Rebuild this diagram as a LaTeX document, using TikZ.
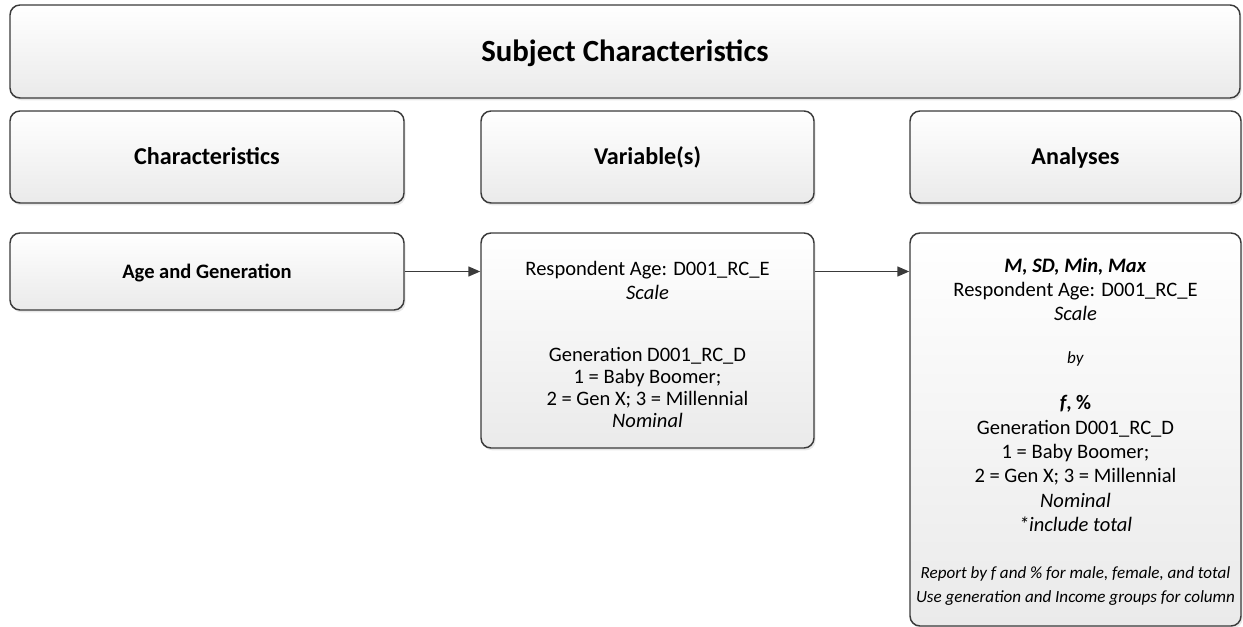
\documentclass[tikz,border=0pt]{standalone}
\usepackage{fontspec}
\setmainfont{Carlito}
\usetikzlibrary{arrows.meta,shadows}
\definecolor{boxline}{HTML}{3A3A3A}
\definecolor{boxfill}{HTML}{EAEAEA}

\begin{document}
\begin{tikzpicture}[x=0.75pt,y=-0.75pt,
    box/.style={draw=boxline, line width=1.1pt, rounded corners=7.5pt,
        top color=white, bottom color=boxfill, align=center, inner sep=0pt,
        drop shadow={shadow xshift=1.2pt, shadow yshift=-1.8pt, opacity=0.18}},
    head/.style={box, font=\fontsize{18.1}{21}\selectfont\bfseries,
        text height=15pt, text depth=4pt},
    body/.style={box, font=\fontsize{15.4}{16.5}\selectfont},
    link/.style={draw=boxline, line width=1.1pt, -{Triangle[length=9pt,width=7.5pt]}}]
    \useasboundingbox (0,0) rectangle (1243,627);

    \node[box, minimum width=922.5pt, minimum height=69.75pt, text height=18pt, text depth=3.2pt,
        font=\fontsize{23.1}{27}\selectfont\bfseries] (title) at (625,51.5) {Subject Characteristics};

    % column heads
    \node[head, minimum width=295.5pt, minimum height=69pt] (char) at (207,157) {Characteristics};
    \node[head, minimum width=249.75pt, minimum height=69pt] (var) at (647.5,157) {Variable(s)};
    \node[head, minimum width=248.25pt, minimum height=69pt] (ana) at (1075.5,157) {Analyses};

    \node[body, minimum width=295.5pt, minimum height=57.75pt, text height=12pt, text depth=2pt] (age) at (207,271.5) {\bfseries Age and Generation};
    \node[body, minimum width=249.75pt, minimum height=161.25pt] (vars) at (647.5,340.5) {%
        \rule{0pt}{17pt}Respondent Age: D001\_RC\_E\\[1.5pt]
        \textit{Scale}\\[30pt]
        Generation D001\_RC\_D\\
        1 = Baby Boomer;\\
        2 = Gen X; 3 = Millennial\\
        \textit{Nominal}};
    \node[body, minimum width=248.25pt, minimum height=294.75pt,
        font=\fontsize{15.4}{18.2}\selectfont] (anas) at (1075.5,429.5) {%
        \rule{0pt}{14pt}\textbf{\textit{M, SD, Min, Max}}\\
        Respondent Age: D001\_RC\_E\\
        \textit{Scale}\\[13.5pt]
        {\fontsize{12.8}{18}\selectfont\textit{by}}\\[17pt]
        \textbf{\textit{f}, \%}\\
        Generation D001\_RC\_D\\
        1 = Baby Boomer;\\
        2 = Gen X; 3 = Millennial\\
        \textit{Nominal}\\
        \textit{*include total}\\[17pt]
        {\fontsize{12.8}{18}\selectfont\textit{Report by f and \% for male, female, and total}}\\
        {\fontsize{12.8}{18}\selectfont\textit{Use generation and Income groups for column}}};

    \draw[link] (age.east) -- (age.east -| vars.west);
    \draw[link] (age.east -| vars.east) -- (age.east -| anas.west);
\end{tikzpicture}
\end{document}
